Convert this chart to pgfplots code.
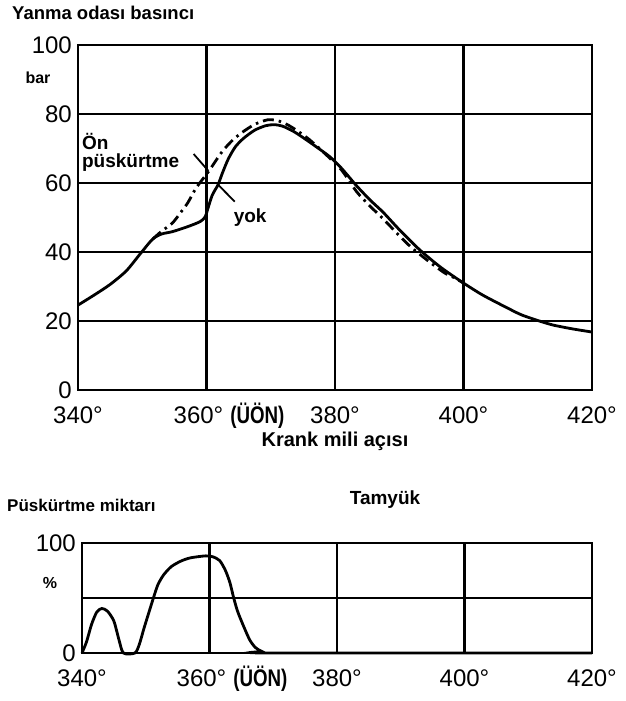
\documentclass[border=0pt]{standalone}
\usepackage{fontspec}
\setmainfont{Liberation Sans}
\newfontfamily\condfont[FakeStretch=0.78]{Liberation Sans}
\usepackage{pgfplots}
\pgfplotsset{compat=1.18}

\pgfplotsset{
  mystyle/.style={
    scale only axis,
    xmin=340, xmax=420,
    xtick={340,360,380,400,420},
    xticklabels={340°, {\hspace{-16pt}360°\smash{\rlap{\hspace{7pt}{\condfont\bfseries\fontsize{24}{24}\selectfont(ÜÖN)}}}}, 380°, 400°, 420°},
    grid=major,
    major grid style={black, line width=2.4pt},
    axis line style={black, line width=2.4pt},
    major tick length=0pt,
    tick label style={font=\fontsize{24}{24}\selectfont, inner sep=0pt, black},
    /pgf/number format/assume math mode=true,
    xticklabel style={yshift=-17pt},
    yticklabel style={xshift=-6pt},
    clip=false,
  },
  curve/.style={black, line width=2.8pt, smooth, tension=0.45},
}

\pgfplotstableread{
x y
340 24.6
342.5 27.5
345 30.6
347.5 34.5
349.7 39.5
351.6 43.7
353 45.2
354.7 45.9
357 47.3
359 48.8
359.8 50.2
360.2 52.5
360.9 56.5
361.8 59.5
362.5 63
363.4 67
364.5 70.5
365.8 73
367.5 75.3
369.2 76.6
370.5 76.9
371.8 76.5
373.5 75
375 73.2
377 70.6
379.2 67.6
381 64.3
383.4 59.1
385.5 55
387.5 51.5
390 46.5
393.2 40.6
396.5 35.5
400 31
403 27.5
406.6 24
409 21.8
411.8 20
414 18.8
417 17.7
420 16.8
}\yoktable

\pgfplotstableread{
x y
351.6 43.7
353 46
354.7 48.4
356 51.5
357.1 54.3
358.4 58.6
360.3 63.3
362.4 69
364 72.3
365.5 74.6
367.5 77
369.5 78.3
371 78.1
372.5 77
374 75.3
376 72.6
378.5 68.4
381 63.8
383.4 57.4
385.5 53.2
387.5 49.6
391.2 42.5
394.3 37.7
397 34
398.4 32.7
400 31
}\ontable

\pgfplotstableread{
x y
340 0
340.7 10
341.5 26
342.3 37
343.1 40.5
344 38
345 29
345.8 12
346.5 0
348.3 0
349 8
349.7 22
350.5 37
351.2 50
351.9 62
352.8 71
354 78.5
355.5 83.5
357 86.5
359.4 88.3
360.5 87.5
361.6 84
362.5 75
363.2 64
363.8 50
364.4 38
365.3 25
366.3 12
367.2 5
368.2 1.5
369.5 0
420 0
}\injtable

\begin{document}
\begin{tikzpicture}
\begin{axis}[mystyle,
  at={(78pt,311pt)}, anchor=south west,
  width=514pt, height=345pt,
  ymin=0, ymax=100, ytick={0,20,40,60,80,100}]
\addplot[curve, dash pattern=on 11pt off 5pt on 2.5pt off 5pt] table[x=x,y=y] {\ontable};
\addplot[curve] table[x=x,y=y] {\yoktable};
\draw[line width=1.8pt] (axis cs:358,68.4) -- (axis cs:360.3,63.5);
\draw[line width=1.8pt] (axis cs:361.8,59.5) -- (axis cs:364.4,54.6);
\node[anchor=west, font=\bfseries\fontsize{19}{19}\selectfont, inner sep=0pt] at (axis cs:340.6,72) {Ön};
\node[anchor=west, font=\bfseries\fontsize{19}{19}\selectfont, inner sep=0pt] at (axis cs:340.6,65.9) {püskürtme};
\node[font=\bfseries\fontsize{19}{19}\selectfont, inner sep=0pt] at (axis cs:366.8,50) {yok};
\end{axis}

\begin{axis}[mystyle,
  at={(82pt,48pt)}, anchor=south west,
  width=510pt, height=110pt,
  ymin=0, ymax=100, ytick={0,50,100}, yticklabels={0,,100}]
\addplot[curve] table[x=x,y=y] {\injtable};
\end{axis}

\node[anchor=west, font=\bfseries\fontsize{18.5}{19}\selectfont, inner sep=0pt] at (12pt,688pt) {Yanma odası basıncı};
\node[font=\bfseries\fontsize{16}{16}\selectfont, inner sep=0pt] at (38pt,623pt) {bar};
\node[font=\bfseries\fontsize{20}{20}\selectfont, inner sep=0pt] at (335pt,260pt) {Krank mili açısı};
\node[anchor=west, font=\bfseries\fontsize{17}{17}\selectfont, inner sep=0pt] at (7pt,196pt) {Püskürtme miktarı};
\node[font=\bfseries\fontsize{19}{19}\selectfont, inner sep=0pt] at (385pt,201pt) {Tamyük};
\node[font=\bfseries\fontsize{16}{16}\selectfont, inner sep=0pt] at (50pt,118pt) {\%};

\pgfresetboundingbox
\useasboundingbox (0,0) rectangle (625pt,701pt);
\end{tikzpicture}
\end{document}
